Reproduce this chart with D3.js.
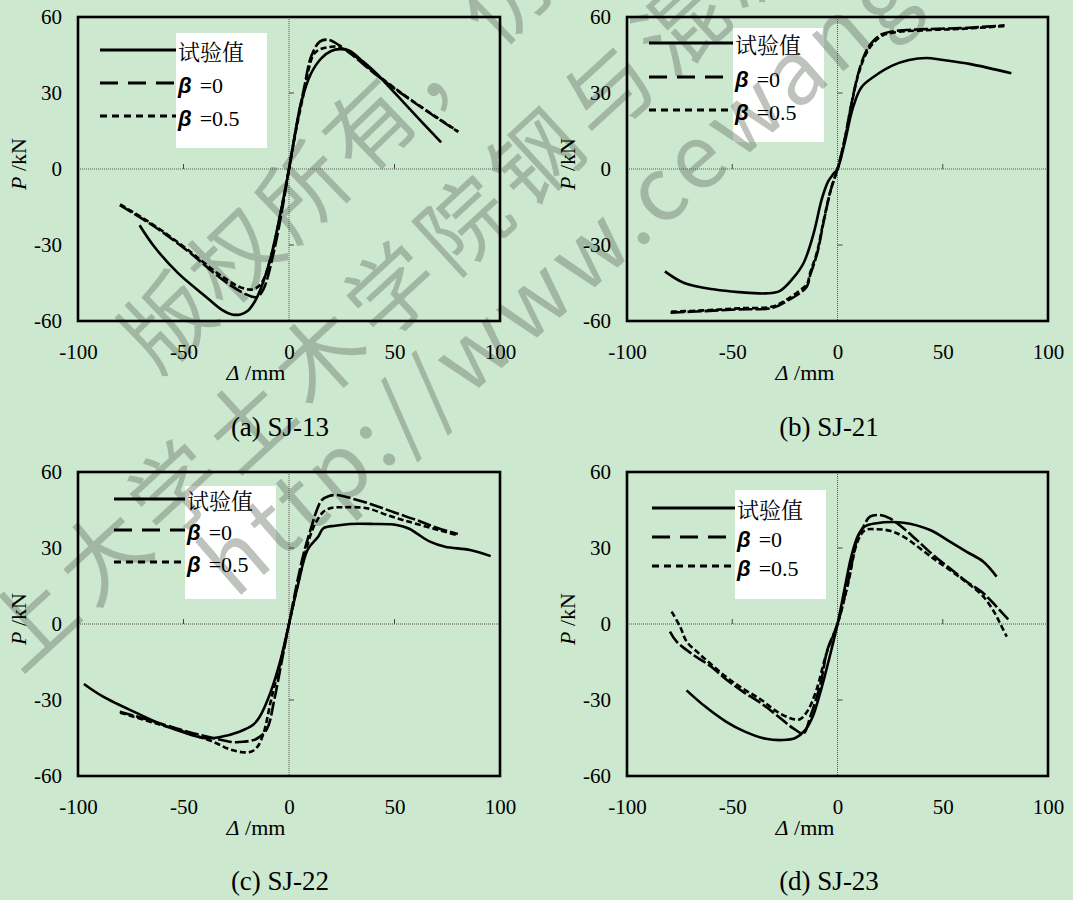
<!DOCTYPE html>
<html><head><meta charset="utf-8">
<script src="https://cdn.jsdelivr.net/npm/d3@7"></script>
<style>body{margin:0;background:#cce8cf;} svg{display:block}</style>
</head><body>
<svg id="c" width="1073" height="900"></svg>
<script>
// ---------------- data ----------------
const xTicks = [-100, -50, 0, 50, 100];
const yTicks = [-60, -30, 0, 30, 60];
const seriesNames = ["试验值", "β =0", "β =0.5"];
const panelTitles = ["(a) SJ-13", "(b) SJ-21", "(c) SJ-22", "(d) SJ-23"];
const watermarkLines = ["版权所有，仿冒必究", "上大学土木学院钢与混凝土", "http://www.cewangwe"];

// panel (a) SJ-13  [Δ mm, P kN]
const testA = [[-70.8,-22.2],[-64,-30.5],[-52.7,-41],[-39.7,-50.2],[-32,-55.5],[-27,-57.4],[-23,-57.4],[-19.5,-56],[-16,-52],[-13.5,-47.5],[-8.9,-35.7],[-4,-17.3],[0,0],[2.4,11.6],[5.7,26],[10.5,37.8],[15.4,43.8],[20,46.6],[24,47.3],[28.4,46.8],[35,42.5],[41.3,37.8],[57.5,23.4],[72.1,10.5]];
const beta0A = [[-80.2,-14.3],[-64,-22.6],[-47.8,-32.5],[-31.6,-43.6],[-20.3,-49.5],[-15.4,-50.6],[-12.2,-47.6],[-7.3,-33.1],[-2.4,-12.1],[0,0],[3.2,15.5],[7.3,32.6],[10.5,44.4],[14.6,50.3],[18.6,51],[23.5,49],[30,45],[41.3,37.2],[57.5,27.3],[80.2,14.6]];
const beta05A = [[-80,-14],[-64,-22.2],[-47.8,-32],[-31.6,-42.5],[-22,-47],[-17,-47.5],[-13,-45],[-8,-33],[-3,-13],[0,0],[3.5,16],[7,30],[9.5,40],[11.5,45],[14,47],[18,48],[23,48.2],[30,45.3],[41.3,37.5],[57.5,27.5],[80.2,14.8]];

// panel (b) SJ-21
const testB = [[-82,-40.4],[-72.8,-45],[-58.2,-47.6],[-46.9,-48.6],[-34,-49.1],[-27.5,-48.2],[-21,-43],[-16.1,-37.1],[-11.3,-25.3],[-7.5,-12],[-4.5,-5],[-2,-2],[0,0],[3.3,10],[7.4,24.4],[11.4,32.3],[17.9,36.8],[26,40.8],[34,43],[42.2,43.8],[50.3,43],[63.2,41.4],[82.6,37.8]];
const beta0B = [[-79.3,-56.7],[-63.1,-56.1],[-46.9,-55.4],[-30.7,-54.8],[-24.2,-52.2],[-17.7,-48.9],[-14.5,-46.3],[-12.9,-41.7],[-9.6,-33.2],[-6.4,-20.1],[-3.2,-8.3],[0,0],[3.3,11.3],[6.6,25.7],[9.8,37.5],[13,45.4],[16.3,49.9],[21.1,53.2],[27.6,54.5],[42.2,55.2],[58.4,55.6],[79.4,56.7]];
const beta05B = [[-79,-56.3],[-63,-55.8],[-47,-55],[-31,-54.3],[-24,-51.5],[-18,-48],[-14.5,-45.5],[-13,-41],[-9.8,-33],[-6.5,-20],[-3.2,-8.2],[0,0],[3.3,11],[6.6,25.3],[9.8,37],[13,44.5],[16.3,49],[21.1,52.6],[27.6,54],[42.2,54.8],[58.4,55.3],[79.4,56.4]];

// panel (c) SJ-22
const testC = [[-97.2,-23.7],[-88.3,-28.6],[-72.1,-35.2],[-55.9,-41.1],[-39.7,-45.1],[-33.2,-44.7],[-23.5,-42.5],[-17,-39.8],[-13.8,-36.5],[-8.9,-27.3],[-4,-14.1],[0,0],[4.1,14.9],[8.9,29.4],[13.8,34.4],[16.3,37.8],[21.9,38.8],[28.9,39.5],[40,39.5],[51,39.1],[57,37.6],[60.5,35.8],[66.8,32.5],[74,30.5],[85.8,29.2],[95.6,26.8]];
const beta0C = [[-80.2,-34.6],[-64,-38.5],[-48,-42.5],[-36,-45],[-27,-46.6],[-21.7,-46.5],[-15.3,-45.3],[-10.5,-41.5],[-7,-30],[-3.5,-15],[0,0],[3.5,15],[7,28],[10.5,38],[13,44.5],[15.5,48.9],[19,50.5],[22.6,50.9],[30,49.5],[40,47],[50,44],[60.5,41],[70,38],[80,35.5]];
const beta05C = [[-80,-35],[-64,-39],[-48,-43],[-36,-46.5],[-28,-49.5],[-22,-50.6],[-18,-50.4],[-15,-48.5],[-12,-43],[-8.5,-30],[-4,-15],[0,0],[4,15],[8,29],[11,37],[13,40.5],[16.3,44.3],[20,45.8],[25.7,46.1],[36.8,45.7],[47.9,42.6],[60.5,39.5],[80,35]];

// panel (d) SJ-23
const testD = [[-71.7,-26.2],[-63,-32.5],[-53,-38.5],[-44,-42.5],[-34,-45.3],[-26,-45.8],[-20,-45],[-15.5,-42],[-12,-37],[-8.5,-28],[-4.5,-15.5],[0,0],[3.3,13.6],[6.6,26.8],[9.8,35],[13,38.5],[17.8,39.7],[31.3,40],[44,37.1],[53.4,32.5],[61.4,28.5],[69.3,24.6],[75.6,18.7]];
const beta0D = [[-79.6,-3],[-76.4,-7],[-68.5,-12.2],[-60.6,-16.5],[-52.7,-22],[-44.8,-26.8],[-36.8,-31],[-28.9,-36],[-21,-41.2],[-16.2,-43.2],[-12.9,-36.5],[-8,-23.3],[-4.8,-10.2],[0,0],[4.9,16.2],[9.8,34.7],[12.3,38.4],[15.4,42.4],[20.2,43],[24.9,41.7],[31.3,37.8],[37.6,33.2],[45.5,27.2],[53.4,22],[61.4,16.7],[69.3,12.1],[75.6,6.8],[81.1,1.8]];
const beta05D = [[-78.8,4.9],[-74.8,-1],[-71.6,-7],[-66,-11.5],[-60.6,-15.5],[-52.7,-21],[-44.8,-25.6],[-36.8,-29.6],[-28.9,-34.5],[-22,-37.3],[-17.8,-37.6],[-14,-34],[-10,-26],[-5,-11],[0,0],[4.9,15.5],[9.5,32.5],[13,37],[18.6,37.4],[24.9,36.8],[31.3,34.5],[45.5,25.9],[59.8,17.4],[69.3,10.8],[74.8,4.2],[77.2,0.3],[80.4,-5]];

const panelData = [
  [testA, beta0A, beta05A],
  [testB, beta0B, beta05B],
  [testC, beta0C, beta05C],
  [testD, beta0D, beta05D]
];

// ---------------- layout ----------------
const layout = [
  {left:78,  top:17,  w:422, h:304, leg:{x:176, y:33,  w:91, h:115, lx:100, rows:[50,83,116]},  cap:[280,436]},
  {left:627, top:17,  w:421, h:304, leg:{x:733, y:28,  w:91, h:114, lx:649, rows:[43,77,110]},  cap:[829,436]},
  {left:78,  top:472, w:422, h:304, leg:{x:185, y:486, w:91, h:113, lx:114, rows:[499,530,562]}, cap:[280,890]},
  {left:627, top:472, w:421, h:304, leg:{x:735, y:490, w:91, h:109, lx:652, rows:[508,537,566]}, cap:[829,890]}
];
const SERIF = "Liberation Serif";
const dataDash = [null, "14,3", "6,3"];
const legDash = [null, "18,10", "7,5"];

const svg = d3.select("#c");
svg.append("rect").attr("width",1073).attr("height",900).attr("fill","#cce8cf");

// legend boxes (under watermark)
layout.forEach(L => {
  svg.append("rect").attr("x",L.leg.x).attr("y",L.leg.y).attr("width",L.leg.w).attr("height",L.leg.h).attr("fill","#fff");
});

// watermark
const wm = svg.append("g").attr("fill","rgb(110,122,110)").attr("fill-opacity",0.45)
  .attr("font-family","Noto Sans CJK SC").attr("font-size",88);
const wmPos = [[158,376,-44,6],[20,675,-42.5,10],[235,600,-41,6]];
watermarkLines.forEach((t,i) => {
  const p = wmPos[i];
  wm.append("text").attr("transform",`translate(${p[0]},${p[1]}) rotate(${p[2]})`)
    .attr("letter-spacing",p[3]).text(t);
});

layout.forEach((L, pi) => {
  const g = svg.append("g");
  const x = d3.scaleLinear().domain([-100,100]).range([L.left, L.left+L.w]);
  const y = d3.scaleLinear().domain([-60,60]).range([L.top+L.h, L.top]);

  // zero lines
  g.append("line").attr("x1",L.left).attr("x2",L.left+L.w).attr("y1",y(0)).attr("y2",y(0))
    .attr("stroke","#555").attr("stroke-width",1).attr("stroke-dasharray","1,1");
  g.append("line").attr("y1",L.top).attr("y2",L.top+L.h).attr("x1",x(0)).attr("x2",x(0))
    .attr("stroke","#555").attr("stroke-width",1).attr("stroke-dasharray","1,1");
  // minor ticks on zero lines
  xTicks.filter(d => d!==0 && Math.abs(d)<100).forEach(d => {
    g.append("line").attr("x1",x(d)).attr("x2",x(d)).attr("y1",y(0)).attr("y2",y(0)-5).attr("stroke","#444").attr("stroke-width",1);
  });
  yTicks.filter(d => d!==0 && Math.abs(d)<60).forEach(d => {
    g.append("line").attr("y1",y(d)).attr("y2",y(d)).attr("x1",x(0)).attr("x2",x(0)+5).attr("stroke","#444").attr("stroke-width",1);
  });

  // axes labels
  const ax = g.append("g").attr("transform",`translate(0,${L.top+L.h})`)
    .call(d3.axisBottom(x).tickValues(xTicks).tickSize(0).tickPadding(23).tickFormat(d => String(d)));
  const ay = g.append("g").attr("transform",`translate(${L.left},0)`)
    .call(d3.axisLeft(y).tickValues(yTicks).tickSize(0).tickPadding(16).tickFormat(d => String(d)));
  [ax, ay].forEach(a => {
    a.attr("font-family",SERIF).attr("font-size",21);
    a.select(".domain").remove();
    a.selectAll("text").attr("fill","#000");
  });

  // curves
  const line = d3.line().x(d => x(d[0])).y(d => y(d[1])).curve(d3.curveCatmullRom.alpha(0.5));
  panelData[pi].forEach((s, si) => {
    g.append("path").datum(s).attr("d",line).attr("fill","none").attr("stroke","#000")
      .attr("stroke-width",2.6).attr("stroke-dasharray",dataDash[si]);
  });

  // frame
  g.append("rect").attr("x",L.left).attr("y",L.top).attr("width",L.w).attr("height",L.h)
    .attr("fill","none").attr("stroke","#000").attr("stroke-width",2.6);

  // axis titles
  const xt = g.append("text").attr("x",L.left+178).attr("y",L.top+L.h+59).attr("text-anchor","middle")
    .attr("font-family",SERIF).attr("font-size",22);
  xt.append("tspan").attr("font-style","italic").text("Δ");
  xt.append("tspan").text(" /mm");
  const yt = g.append("text").attr("transform",`translate(${L.left-52},${L.top+147}) rotate(-90)`).attr("text-anchor","middle")
    .attr("font-family",SERIF).attr("font-size",22);
  yt.append("tspan").attr("font-style","italic").text("P");
  yt.append("tspan").text(" /kN");

  // legend
  seriesNames.forEach((n, si) => {
    const ry = L.leg.rows[si];
    g.append("line").attr("x1",L.leg.lx).attr("x2",L.leg.x).attr("y1",ry).attr("y2",ry)
      .attr("stroke","#000").attr("stroke-width",3).attr("stroke-dasharray",legDash[si]);
    const t = g.append("text").attr("x",L.leg.x+2).attr("y",ry+10).attr("font-size",22);
    if (si === 0) {
      t.attr("font-family","Noto Serif CJK SC, Noto Sans CJK SC").attr("font-size",22).text(n);
    } else {
      const parts = n.split(" ");
      t.append("tspan").attr("font-family","Liberation Sans").attr("font-style","italic").attr("font-weight","bold").text(parts[0]);
      t.append("tspan").attr("dx",8).attr("font-family",SERIF).text(parts[1]);
    }
  });

  // caption
  svg.append("text").attr("x",L.cap[0]).attr("y",L.cap[1]).attr("text-anchor","middle")
    .attr("font-family",SERIF).attr("font-size",27).text(panelTitles[pi]);
});
</script>
</body></html>
